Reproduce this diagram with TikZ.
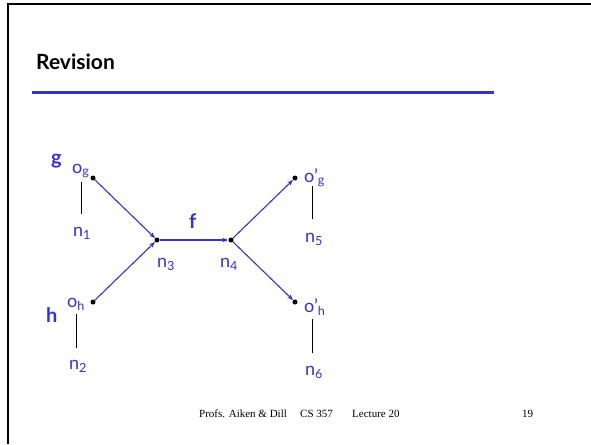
\documentclass[tikz,border=0pt]{standalone}
\usepackage{fontspec}
\setmainfont{Liberation Serif}
\newfontfamily\slidefont{Lato}
\usetikzlibrary{arrows.meta,positioning,calc}
\definecolor{SlideBlue}{HTML}{3333CC}

\begin{document}
\begin{tikzpicture}[x=1pt,y=-1pt,
  dot/.style={circle,fill=black,inner sep=0pt,minimum size=5pt},
  lbl/.style={anchor=base west,inner sep=0pt,text=SlideBlue,
    font=\slidefont\fontsize{18}{18}\selectfont},
  fname/.style={lbl,font=\slidefont\bfseries\fontsize{20}{20}\selectfont},
  flow/.style={SlideBlue,line width=1.1pt,-{Stealth[length=6pt,width=4.5pt]}},
  tie/.style={black,line width=0.8pt},
  foot/.style={anchor=base west,inner sep=0pt,font=\fontsize{11}{11}\selectfont}]
  \useasboundingbox (0,0) rectangle (591,444);
  \draw[line width=2.5pt] (8,444) -- (8,4) -- (591,4);
  \node[anchor=base west,inner sep=0pt,
    font=\slidefont\bfseries\fontsize{21}{21}\selectfont] (title) at (36,70) {Revision};
  \draw[SlideBlue,line width=3pt] (32,92) -- (494,92);

  % points of the graph
  \node[dot] (pog) at (93,178) {};
  \node[dot] (poh) at (93,302) {};
  \node[dot] (pn3) at (157,240) {};
  \node[dot] (pn4) at (231,240) {};
  \node[dot] (pogx) at (295,178) {};
  \node[dot] (pohx) at (295,302) {};

  \draw[flow] (pog) -- (pn3);
  \draw[flow] (poh) -- (pn3);
  \draw[flow] (pn3) -- (pn4);
  \draw[flow] (pn4) -- (pogx);
  \draw[flow] (pn4) -- (pohx);

  % labels
  \node[fname] (g) at (51,164) {g};
  \node[fname] (h) at (46,322) {h};
  \node[fname] (f) at (189,228) {f};
  \node[lbl] (og) at (72,173) {o\textsubscript{g}};
  \node[lbl] (oh) at (67,307) {o\textsubscript{h}};
  \node[lbl] (ogx) at (304,182) {o’\textsubscript{g}};
  \node[lbl] (ohx) at (304,312) {o’\textsubscript{h}};
  \node[lbl] (n1) at (73,236) {n\textsubscript{1}};
  \node[lbl] (n2) at (69,369) {n\textsubscript{2}};
  \node[lbl] (n3) at (157,267) {n\textsubscript{3}};
  \node[lbl] (n4) at (220,267) {n\textsubscript{4}};
  \node[lbl] (n5) at (305,242) {n\textsubscript{5}};
  \node[lbl] (n6) at (305,375) {n\textsubscript{6}};

  \draw[tie] ([shift={(9,9)}]og.base west) -- ([shift={(8,-22)}]n1.base west);
  \draw[tie] ([shift={(9,7)}]oh.base west) -- ([shift={(7,-21)}]n2.base west);
  \draw[tie] ([shift={(8,4)}]ogx.base west) -- ([shift={(7,-23)}]n5.base west);
  \draw[tie] ([shift={(8,7)}]ohx.base west) -- ([shift={(7,-22)}]n6.base west);

  % footer
  \node[foot] (who) at (199,417) {Profs. Aiken \& Dill};
  \node[foot] (course) at (300,417) {CS 357};
  \node[foot] (lec) at (352,417) {Lecture 20};
  \node[foot] (page) at (522,417) {19};
\end{tikzpicture}
\end{document}
